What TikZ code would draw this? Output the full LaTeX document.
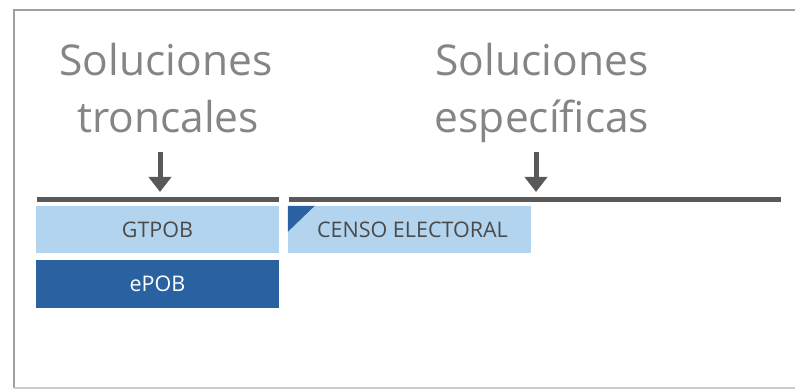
\documentclass[tikz,border=0pt]{standalone}
\usepackage{fontspec}
\setmainfont{Open Sans}
\usetikzlibrary{arrows.meta}
\definecolor{titlegray}{HTML}{858585}
\definecolor{bargray}{HTML}{595959}
\definecolor{lightblue}{HTML}{B3D4EE}
\definecolor{darkblue}{HTML}{2A61A0}
\definecolor{textgray}{HTML}{4A4A4A}
\definecolor{framegray}{HTML}{A0A0A0}
\tikzset{
  title/.style={text=titlegray, font=\fontsize{42.5}{57}\selectfont, align=center, inner sep=0pt, anchor=base},
  bar/.style={draw=bargray, line width=5pt},
  downarrow/.style={draw=bargray, line width=5pt, -{Triangle[width=22pt,length=15pt]}},
  lightbox/.style={fill=lightblue, text=textgray, minimum width=243pt, minimum height=47pt, inner sep=0pt, font=\fontsize{21.5}{24}\selectfont},
  darkbox/.style={fill=darkblue, text=white, minimum width=243pt, minimum height=48pt, inner sep=0pt, font=\fontsize{21.5}{24}\selectfont},
}
\begin{document}
\begin{tikzpicture}[x=1pt,y=-1pt]
\useasboundingbox (0,0) rectangle (795,390);
% frame
\draw[framegray, line width=2pt] (795,10) -- (14,10) -- (14,388);
\draw[gray!40, line width=1.5pt] (14,388) -- (795,388);
% titles
\node[title] (t1a) at (166,76) {Soluciones};
\node[title] (t1b) at (168,133) {troncales};
\node[title] (t2a) at (542,76) {Soluciones};
\node[title] (t2b) at (542,133) {específicas};
% bars
\coordinate (b1l) at (37,199.5);
\coordinate (b1r) at (279,199.5);
\coordinate (b2l) at (289,199.5);
\coordinate (b2r) at (781,199.5);
\draw[bar] (b1l) -- (b1r);
\draw[bar] (b2l) -- (b2r);
% arrows
\coordinate (a1s) at (160,152);
\coordinate (a1e) at (160,192);
\coordinate (a2s) at (536,152);
\coordinate (a2e) at (536,192);
\draw[downarrow] (a1s) -- (a1e);
\draw[downarrow] (a2s) -- (a2e);
% boxes
\node[lightbox] (gtpob) at (157.5,229.5) {GTPOB};
\node[darkbox] (epob) at (157.5,284) {ePOB};
\node[lightbox] (censo) at (409.5,229.5) {\hspace*{6pt}CENSO ELECTORAL};
\fill[darkblue] (censo.north west) -- ++(27,0) -- ++(-27,26) -- cycle;
\end{tikzpicture}
\end{document}
